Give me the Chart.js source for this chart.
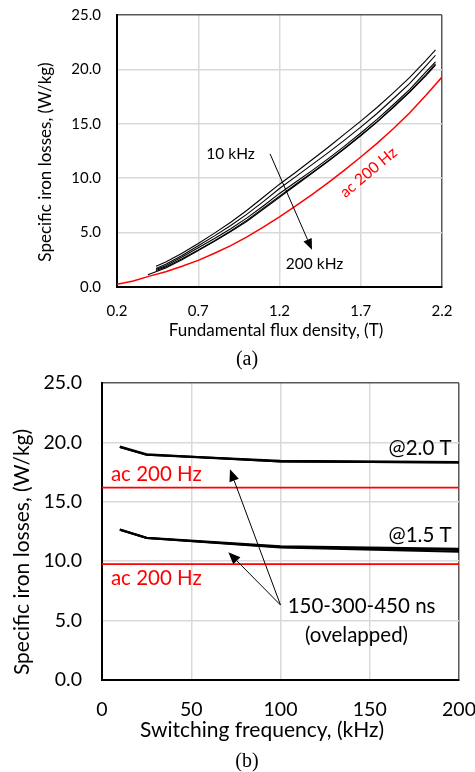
<!DOCTYPE html>
<html>
<head>
<meta charset="utf-8">
<script src="https://cdn.jsdelivr.net/npm/chart.js@4.4.1/dist/chart.umd.min.js"></script>
<style>
  html, body { margin: 0; padding: 0; background: #fff; }
  #wrap { position: relative; width: 475px; height: 772px; overflow: hidden; }
  .panel { position: absolute; left: 0; width: 475px; }
  #pa { top: 0; height: 365px; }
  #pb { top: 365px; height: 407px; }
  .cap { position: absolute; width: 40px; text-align: center; color: #000;
         font-family: "Liberation Serif", "Times New Roman", serif; font-size: 20px; line-height: 22px; }
</style>
</head>
<body>
<div id="wrap">
  <div class="panel" id="pa"><canvas id="ca"></canvas></div>
  <div class="panel" id="pb"><canvas id="cb"></canvas></div>
  <div class="cap" style="left:227px; top:347px;">(a)</div>
  <div class="cap" style="left:227px; top:749px;">(b)</div>
</div>
<script>
// ---------- (a) specific iron losses vs. fundamental flux density ----------
const fluxAc = [0.2, 0.3, 0.4, 0.5, 0.6, 0.7, 0.8, 0.9, 1.0, 1.1, 1.2, 1.3, 1.4, 1.5, 1.6, 1.7, 1.8, 1.9, 2.0, 2.1, 2.2];
const lossAc200Hz = [0.25, 0.55, 1.0, 1.4, 1.9, 2.45, 3.1, 3.8, 4.6, 5.5, 6.45, 7.45, 8.5, 9.6, 10.75, 11.95, 13.2, 14.55, 16.0, 17.6, 19.3];

const fluxPwm = [0.44, 0.5, 0.6, 0.7, 0.8, 0.9, 1.0, 1.1, 1.2, 1.3, 1.4, 1.5, 1.6, 1.7, 1.8, 1.9, 2.0, 2.1, 2.16];
const fluxPwm200k = [0.39, 0.5, 0.6, 0.7, 0.8, 0.9, 1.0, 1.1, 1.2, 1.3, 1.4, 1.5, 1.6, 1.7, 1.8, 1.9, 2.0, 2.1, 2.16];
const loss10kHz  = [1.91, 2.3, 3.1, 4.0, 4.95, 5.95, 7.05, 8.25, 9.45, 10.55, 11.7, 12.85, 14.05, 15.25, 16.5, 17.85, 19.25, 20.8, 21.8];
const loss20kHz  = [1.71, 2.1, 2.9, 3.8, 4.7, 5.65, 6.7, 7.85, 9.05, 10.15, 11.25, 12.35, 13.5, 14.7, 15.95, 17.3, 18.7, 20.3, 21.3];
const loss50kHz  = [1.61, 1.95, 2.75, 3.6, 4.45, 5.35, 6.35, 7.45, 8.6, 9.65, 10.7, 11.8, 12.95, 14.15, 15.4, 16.75, 18.15, 19.75, 20.7];
const loss100kHz = [1.51, 1.85, 2.6, 3.4, 4.25, 5.15, 6.15, 7.25, 8.35, 9.45, 10.5, 11.6, 12.75, 13.95, 15.2, 16.55, 17.95, 19.5, 20.5];
const loss200kHz = [1.13, 1.75, 2.5, 3.35, 4.2, 5.1, 6.05, 7.15, 8.25, 9.35, 10.45, 11.55, 12.7, 13.9, 15.15, 16.5, 17.9, 19.4, 20.4];

const fluxTicks = [0.2, 0.7, 1.2, 1.7, 2.2];
const lossTicks = [0, 5, 10, 15, 20, 25];

// ---------- (b) specific iron losses vs. switching frequency ----------
const fswKHz = [10, 25, 100, 200];
const loss20T_150ns = [19.65, 19.0, 18.4, 18.3];
const loss20T_300ns = [19.6, 18.95, 18.4, 18.3];
const loss20T_450ns = [19.6, 18.95, 18.45, 18.35];
const loss15T_150ns = [12.68, 11.98, 11.25, 11.05];
const loss15T_300ns = [12.65, 11.95, 11.2, 10.95];
const loss15T_450ns = [12.65, 11.95, 11.15, 10.8];
const acSpan = [0, 200];
const ac200Hz20T = 16.2;
const ac200Hz15T = 9.75;
const fswTicks = [0, 50, 100, 150, 200];

const FONT = 'Lato, "Open Sans", sans-serif';
const pts = (xs, ys) => xs.map((v, i) => ({ x: v, y: ys[i] }));

// text, arrows and axis titles drawn on top of the series
const annot = {
  id: 'annot',
  afterDatasetsDraw(chart, args, o) {
    const { ctx } = chart;
    const sx = chart.scales.x, sy = chart.scales.y;
    ctx.save();
    (o.arrows || []).forEach(a => {
      const x0 = sx.getPixelForValue(a.from[0]), y0 = sy.getPixelForValue(a.from[1]);
      const x1 = sx.getPixelForValue(a.to[0]), y1 = sy.getPixelForValue(a.to[1]);
      const ang = Math.atan2(y1 - y0, x1 - x0);
      const L = a.head || 11, W = a.width || 9;
      const bx = x1 - L * Math.cos(ang), by = y1 - L * Math.sin(ang);
      ctx.strokeStyle = '#000'; ctx.lineWidth = 1;
      ctx.beginPath(); ctx.moveTo(x0, y0); ctx.lineTo(bx, by); ctx.stroke();
      ctx.fillStyle = '#000';
      ctx.beginPath();
      ctx.moveTo(x1, y1);
      ctx.lineTo(bx + (W / 2) * Math.sin(ang), by - (W / 2) * Math.cos(ang));
      ctx.lineTo(bx - (W / 2) * Math.sin(ang), by + (W / 2) * Math.cos(ang));
      ctx.closePath(); ctx.fill();
    });
    (o.texts || []).forEach(t => {
      ctx.save();
      ctx.font = t.font; ctx.fillStyle = t.color || '#000';
      ctx.textAlign = t.align || 'center'; ctx.textBaseline = 'middle';
      ctx.translate(sx.getPixelForValue(t.x), sy.getPixelForValue(t.y));
      ctx.rotate((t.rot || 0) * Math.PI / 180);
      ctx.fillText(t.text, 0, 0);
      ctx.restore();
    });
    (o.titles || []).forEach(t => {
      ctx.save();
      ctx.font = t.font; ctx.fillStyle = '#000';
      ctx.textAlign = 'center'; ctx.textBaseline = 'middle';
      ctx.translate(t.cx, t.cy);
      ctx.rotate((t.rot || 0) * Math.PI / 180);
      ctx.fillText(t.text, 0, 0);
      ctx.restore();
    });
    ctx.restore();
  }
};

function axes(cfg) {
  const gridColor = (top) => (c) => (c.tick && Math.abs(c.tick.value - top) < 1e-9) ? '#595959' : '#d9d9d9';
  return {
    x: {
      type: 'linear', min: cfg.xTicks[0], max: cfg.xTicks[cfg.xTicks.length - 1],
      afterBuildTicks: s => { s.ticks = cfg.xTicks.map(v => ({ value: v })); },
      afterFit: s => { s.height = cfg.xHeight; s.paddingLeft = 0; s.paddingRight = 0; },
      grid: { color: gridColor(cfg.xTicks[cfg.xTicks.length - 1]), lineWidth: 1.5, drawTicks: false },
      border: { color: '#000', width: 2 },
      ticks: { font: { family: FONT, size: cfg.fs }, color: '#000', padding: cfg.xPad,
               maxRotation: 0, autoSkip: false, callback: v => cfg.xFmt(v) }
    },
    y: {
      type: 'linear', min: 0, max: 25,
      afterBuildTicks: s => { s.ticks = lossTicks.map(v => ({ value: v })); },
      afterFit: s => { s.width = cfg.yWidth; s.paddingTop = 0; s.paddingBottom = 0; },
      grid: { color: gridColor(25), lineWidth: 1.5, drawTicks: false },
      border: { color: '#000', width: 2 },
      ticks: { font: { family: FONT, size: cfg.fs }, color: '#000', padding: cfg.yPad,
               autoSkip: false, callback: v => v.toFixed(1) }
    }
  };
}

const blk = (label, xs, ys, w) => ({ label, data: pts(xs, ys), borderColor: '#000', borderWidth: w,
  pointRadius: 0, tension: 0, fill: false });
const red = (label, xs, ys, w) => ({ label, data: pts(xs, ys), borderColor: '#ff0000', borderWidth: w,
  pointRadius: 0, tension: 0, fill: false });

// chart (a)
new Chart(document.getElementById('ca'), {
  type: 'line',
  data: {
    datasets: [
      red('ac 200 Hz', fluxAc, lossAc200Hz, 1.5),
      blk('10 kHz', fluxPwm, loss10kHz, 1.1),
      blk('20 kHz', fluxPwm, loss20kHz, 1.1),
      blk('50 kHz', fluxPwm, loss50kHz, 1.1),
      blk('100 kHz', fluxPwm, loss100kHz, 1.1),
      blk('200 kHz', fluxPwm200k, loss200kHz, 1.1)
    ]
  },
  plugins: [annot],
  options: {
    responsive: true, maintainAspectRatio: false, animation: false,
    layout: { padding: { left: 0, right: 33, top: 15, bottom: 0 } },
    scales: axes({ xTicks: fluxTicks, xFmt: v => v.toFixed(1), fs: 15, xHeight: 78, xPad: 15, yWidth: 117, yPad: 16 }),
    plugins: {
      legend: { display: false }, tooltip: { enabled: false },
      annot: {
        arrows: [{ from: [1.142, 12.23], to: [1.40, 3.42], head: 11, width: 9 }],
        texts: [
          { text: '10 kHz', x: 0.899, y: 12.2, font: '15.5px ' + FONT },
          { text: '200 kHz', x: 1.416, y: 2.14, font: '15.5px ' + FONT },
          { text: 'ac 200 Hz', x: 1.748, y: 10.53, rot: -40, color: '#ff0000', font: '15.5px ' + FONT }
        ],
        titles: [
          { text: 'Specific iron losses, (W/kg)', cx: 46, cy: 162, rot: -90, font: '17px ' + FONT },
          { text: 'Fundamental flux density, (T)', cx: 276, cy: 331, font: '17px ' + FONT }
        ]
      }
    }
  }
});

// chart (b)
new Chart(document.getElementById('cb'), {
  type: 'line',
  data: {
    datasets: [
      red('ac 200 Hz @2.0 T', acSpan, [ac200Hz20T, ac200Hz20T], 1.8),
      red('ac 200 Hz @1.5 T', acSpan, [ac200Hz15T, ac200Hz15T], 1.8),
      blk('2.0 T, 150 ns', fswKHz, loss20T_150ns, 2),
      blk('2.0 T, 300 ns', fswKHz, loss20T_300ns, 2),
      blk('2.0 T, 450 ns', fswKHz, loss20T_450ns, 2),
      blk('1.5 T, 150 ns', fswKHz, loss15T_150ns, 2),
      blk('1.5 T, 300 ns', fswKHz, loss15T_300ns, 2),
      blk('1.5 T, 450 ns', fswKHz, loss15T_450ns, 2)
    ]
  },
  plugins: [annot],
  options: {
    responsive: true, maintainAspectRatio: false, animation: false,
    layout: { padding: { left: 0, right: 16, top: 18, bottom: 0 } },
    scales: axes({ xTicks: fswTicks, xFmt: v => String(v), fs: 19.5, xHeight: 92, xPad: 18, yWidth: 102, yPad: 20 }),
    plugins: {
      legend: { display: false }, tooltip: { enabled: false },
      annot: {
        arrows: [
          { from: [100, 6.31], to: [71.7, 17.73], head: 12, width: 10 },
          { from: [100, 6.31], to: [70.8, 10.75], head: 12, width: 10 }
        ],
        texts: [
          { text: 'ac 200 Hz', x: 5, y: 17.34, align: 'left', color: '#ff0000', font: '20.5px ' + FONT },
          { text: 'ac 200 Hz', x: 5, y: 8.59, align: 'left', color: '#ff0000', font: '20.5px ' + FONT },
          { text: '@2.0 T', x: 195.9, y: 19.53, align: 'right', font: '20.5px ' + FONT },
          { text: '@1.5 T', x: 195.9, y: 12.2, align: 'right', font: '20.5px ' + FONT },
          { text: '150-300-450 ns', x: 145.4, y: 6.17, font: '20.5px ' + FONT },
          { text: '(ovelapped)', x: 142.6, y: 3.79, font: '20.5px ' + FONT }
        ],
        titles: [
          { text: 'Specific iron losses, (W/kg)', cx: 22, cy: 187, rot: -90, font: '21px ' + FONT },
          { text: 'Switching frequency, (kHz)', cx: 262, cy: 365, font: '21px ' + FONT }
        ]
      }
    }
  }
});
</script>
</body>
</html>
